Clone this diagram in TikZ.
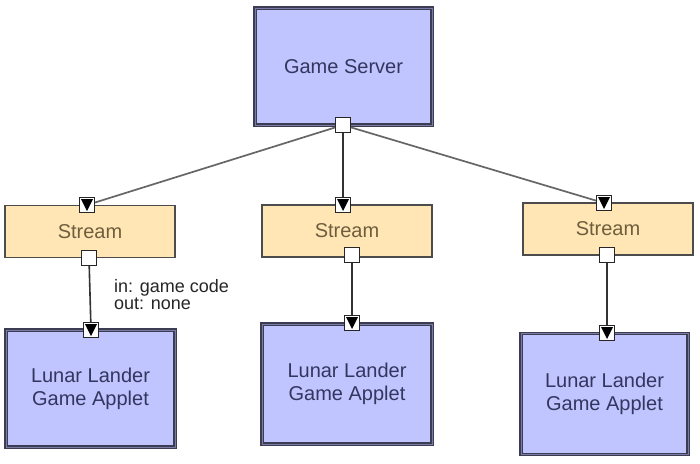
\documentclass[tikz,border=0pt]{standalone}
\usepackage{fontspec}
\setmainfont{Liberation Sans}
\definecolor{boxblue}{HTML}{C0C4FF}
\definecolor{boxedge}{HTML}{3C3C52}
\definecolor{boxbevel}{HTML}{7A7CA6}
\definecolor{bluetext}{HTML}{33365E}
\definecolor{streamfill}{HTML}{FFE6B4}
\definecolor{streamtext}{HTML}{6E5E3E}
\begin{document}
\begin{tikzpicture}[x=1pt,y=-1pt,
    bluebox/.style={draw=boxedge, double=boxbevel, double distance=0.9pt, line width=1.5pt,
        fill=boxblue, text=bluetext, font=\fontsize{20}{23}\selectfont, align=center},
    streambox/.style={draw=black!70, line width=1.5pt, fill=streamfill, text=streamtext,
        font=\fontsize{20}{23}\selectfont, minimum width=170pt, minimum height=52pt},
    outport/.style={draw=black!85, line width=1pt, fill=white, minimum size=15pt, inner sep=0pt},
    inport/.style={outport, path picture={
        \fill[black] ([shift={(1.5pt,-1.5pt)}]path picture bounding box.north west)
            -- ([shift={(-1.5pt,-1.5pt)}]path picture bounding box.north east)
            -- ([yshift=1.5pt]path picture bounding box.south) -- cycle;}},
    wire/.style={draw=black!80, line width=1.6pt},
    graywire/.style={draw=black!60, line width=1.7pt}]
    \useasboundingbox (0,0) rectangle (700,463);

    \node[bluebox, minimum width=177pt, minimum height=117pt] (server) at (343.5,66.5) {Game Server};
    \node[streambox] (s1) at (90,231.5) {Stream};
    \node[streambox] (s2) at (347,231) {Stream};
    \node[streambox] (s3) at (608,229) {Stream};
    \node[bluebox, minimum width=169pt, minimum height=117pt] (l1) at (90.5,388.5) {Lunar Lander\\Game Applet};
    \node[bluebox, minimum width=170pt, minimum height=120pt] (l2) at (347,384) {Lunar Lander\\Game Applet};
    \node[bluebox, minimum width=167pt, minimum height=121pt] (l3) at (604.5,394) {Lunar Lander\\Game Applet};

    \node[outport] (gsout) at (343,125) {};
    \node[inport] (s1in) at (87,205) {};
    \node[outport] (s1out) at (89,258) {};
    \node[inport] (s2in) at (343,205) {};
    \node[outport] (s2out) at (352,255) {};
    \node[inport] (s3in) at (604,203) {};
    \node[outport] (s3out) at (607,255) {};
    \node[inport] (l1in) at (91,330) {};
    \node[inport] (l2in) at (352,323) {};
    \node[inport] (l3in) at (607,333) {};

    \path[graywire] (gsout) -- (s1in);
    \path[wire] (gsout) -- (s2in);
    \path[graywire] (gsout) -- (s3in);
    \path[wire] (s1out) -- (l1in);
    \path[wire] (s2out) -- (l2in);
    \path[wire] (s3out) -- (l3in);

    \node[anchor=north west, inner sep=0pt, align=left, text=black!85,
        font=\fontsize{18}{17.5}\selectfont] (flow) at (114,279) {in: game code\\out: none};
\end{tikzpicture}
\end{document}
